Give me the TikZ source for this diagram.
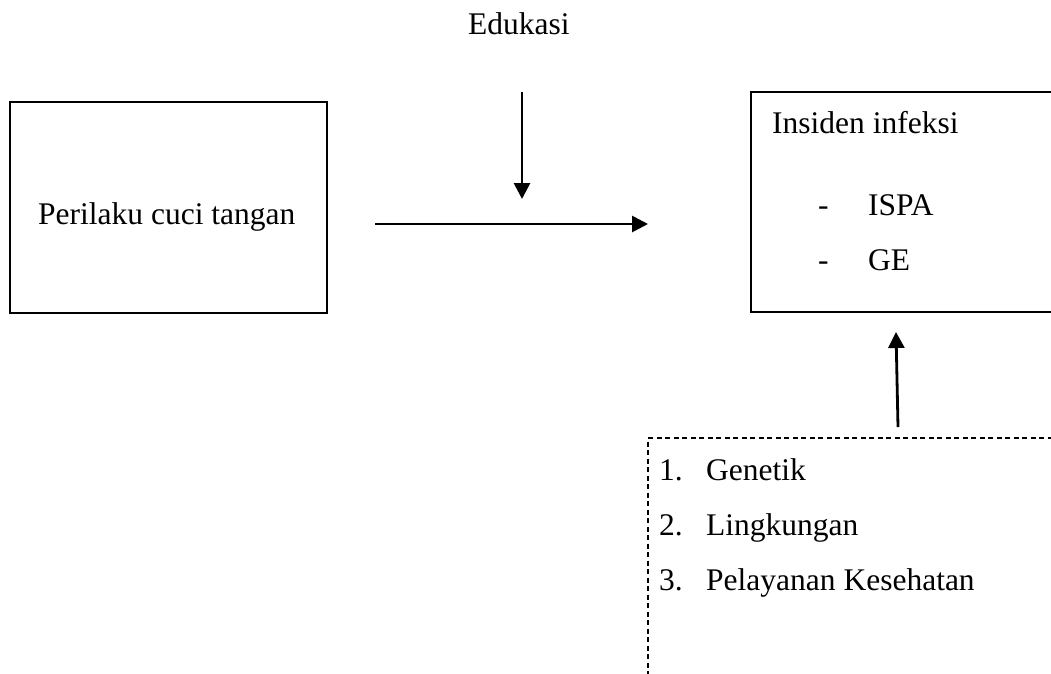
\documentclass[tikz,border=0pt]{standalone}
\usepackage{fontspec}
\setmainfont{Liberation Serif}
\usetikzlibrary{arrows.meta}
\begin{document}
\begin{tikzpicture}[x=1pt,y=-1pt,
  txt/.style={anchor=base west,inner sep=0pt,font=\fontsize{31.5}{36}\selectfont},
  solidbox/.style={draw,line width=1.7pt,inner sep=0pt},
  dashbox/.style={draw,line width=1.3pt,dash pattern=on 5pt off 3.5pt,inner sep=0pt},
  arr/.style={line width=2.8pt,-{Triangle[length=16pt,width=16pt]}}]
\useasboundingbox (0,0) rectangle (1051,673);
% boxes
\node[solidbox,minimum width=317pt,minimum height=211pt] (perilaku) at (168.5,207.5) {};
\node[solidbox,minimum width=310pt,minimum height=220pt] (insiden) at (906,202) {};
\node[dashbox,minimum width=420pt,minimum height=270pt] (faktor) at (858,573) {};
% texts
\node[txt] (tperilaku) at (38,224) {Perilaku cuci tangan};
\node[txt] (edukasi) at (468,34) {Edukasi};
\node[txt] (tinsiden) at (772,133) {Insiden infeksi};
\node[txt] (d1) at (818,215) {-};
\node[txt] (ispa) at (868,215) {ISPA};
\node[txt] (d2) at (818,270) {-};
\node[txt] (ge) at (868,270) {GE};
\node[txt] (n1) at (659,480) {1.};
\node[txt] (f1) at (706,480) {Genetik};
\node[txt] (n2) at (659,535) {2.};
\node[txt] (f2) at (706,535) {Lingkungan};
\node[txt] (n3) at (659,590) {3.};
\node[txt] (f3) at (706,590) {Pelayanan Kesehatan};
% connectors
\coordinate (hs) at (375,224);
\coordinate (he) at (648,224);
\coordinate (vs) at (522,92);
\coordinate (ve) at (522,199);
\coordinate (us) at (898,427);
\coordinate (ue) at (896,332);
\draw[arr] (hs) -- (he);
\draw[arr] (vs) -- (ve);
\draw[arr] (us) -- (ue);
\end{tikzpicture}
\end{document}
